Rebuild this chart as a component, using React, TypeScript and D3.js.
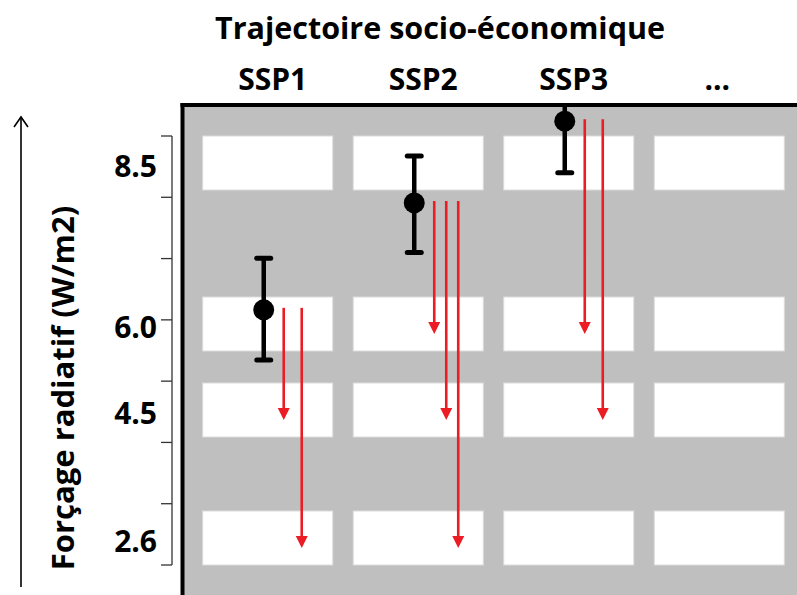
import * as d3 from 'd3';

// socio-economic pathways (columns) and radiative forcing levels (rows)
const scenarios = ['SSP1', 'SSP2', 'SSP3', '...'];
const forcingLevels = [8.5, 6.0, 4.5, 2.6];
const levelLabels = ['8.5', '6.0', '4.5', '2.6'];

// baseline forcing per SSP with its uncertainty range
const baselineSsp = ['SSP1', 'SSP2', 'SSP3'];
const baselineForcing = [6.22, 7.88, 9.15];
const baselineLow = [5.37, 7.11, 8.35];
const baselineHigh = [7.02, 8.61, 9.95];

// mitigation targets reached from each baseline (red arrows)
const mitigationTargets = [
  [4.5, 2.6],
  [6.0, 4.5, 2.6],
  [6.0, 4.5],
];

const W = 797;
const H = 595;
const frameLeft = 182.5;
const frameTop = 105;
const font = '"Open Sans", sans-serif';
const red = '#ec1c24';

export default function App() {
  const x = d3
    .scaleBand<string>()
    .domain(scenarios)
    .range([202.7, 784.3])
    .paddingInner(0.136)
    .paddingOuter(0);

  // schematic axis: rows are spaced by forcing, piecewise
  const y = d3
    .scaleLinear()
    .domain([2.6, 4.5, 6.0, 8.5])
    .range([538, 410, 324, 163]);

  const boxH = 54;
  const colMid = (s: string) => (x(s) ?? 0) + x.bandwidth() / 2;

  // bracket with evenly spaced ticks spanning the rows
  const brTop = y(8.5) - boxH / 2;
  const brBot = y(2.6) + boxH / 2;
  const brTicks = d3.range(8).map((i) => brTop + (i * (brBot - brTop)) / 7);

  return (
    <svg
      width={W}
      height={H}
      style={{ position: 'absolute', left: 0, top: 0, background: '#fff' }}
    >
      <defs>
        <clipPath id="plot">
          <rect x={frameLeft} y={frameTop} width={W - frameLeft} height={H - frameTop} />
        </clipPath>
      </defs>

      {/* title */}
      <text x={440} y={39} textAnchor="middle" fontFamily={font} fontWeight="bold" fontSize={30.5}>
        Trajectoire socio-économique
      </text>

      {scenarios.map((s, i) => (
        <text
          key={s}
          x={colMid(s) + (i < 3 ? 5 : -2)}
          y={90}
          textAnchor="middle"
          fontFamily={font}
          fontWeight="bold"
          fontSize={30}
        >
          {s}
        </text>
      ))}

      {/* plot background */}
      <rect x={frameLeft} y={frameTop} width={W - frameLeft} height={H - frameTop} fill="#bfbfbf" />

      {forcingLevels.map((lv) =>
        scenarios.map((s) => (
          <rect
            key={lv + s}
            x={x(s)}
            y={y(lv) - boxH / 2}
            width={x.bandwidth()}
            height={boxH}
            fill="#fff"
            stroke="#dcdcdc"
            strokeWidth={1}
          />
        )),
      )}

      <g clipPath="url(#plot)">
        {/* red arrows */}
        {baselineSsp.map((s, i) => {
          const n = mitigationTargets[i].length;
          const gap = n === 3 ? 12 : 18;
          return mitigationTargets[i].map((t, j) => {
            const ax = colMid(s) + 16 + j * gap;
            const y0 = y(baselineForcing[i]) - 2;
            const tip = y(t) + 10;
            return (
              <g key={s + t}>
                <line x1={ax} x2={ax} y1={y0} y2={tip - 10} stroke={red} strokeWidth={2.6} />
                <path d={`M${ax - 6},${tip - 12}L${ax + 6},${tip - 12}L${ax},${tip}Z`} fill={red} />
              </g>
            );
          });
        })}

        {/* baseline with range */}
        {baselineSsp.map((s, i) => {
          const cx = colMid(s) - 4;
          return (
            <g key={s}>
              <line
                x1={cx}
                x2={cx}
                y1={y(baselineHigh[i])}
                y2={y(baselineLow[i])}
                stroke="#000"
                strokeWidth={4.5}
              />
              {[baselineHigh[i], baselineLow[i]].map((v, k) => (
                <line
                  key={k}
                  x1={cx - 7}
                  x2={cx + 7}
                  y1={y(v)}
                  y2={y(v)}
                  stroke="#000"
                  strokeWidth={5}
                  strokeLinecap="round"
                />
              ))}
              <circle cx={cx} cy={y(baselineForcing[i])} r={10.5} fill="#000" />
            </g>
          );
        })}
      </g>

      {/* frame */}
      <line x1={frameLeft} x2={frameLeft} y1={frameTop - 2} y2={H} stroke="#000" strokeWidth={4} />
      <line x1={frameLeft - 2} x2={W} y1={frameTop} y2={frameTop} stroke="#000" strokeWidth={4} />

      {/* y axis bracket */}
      <line x1={172} x2={172} y1={brTop} y2={brBot} stroke="#333" strokeWidth={1.3} />
      {brTicks.map((ty, i) => (
        <line key={i} x1={161} x2={172} y1={ty} y2={ty} stroke="#333" strokeWidth={1.3} />
      ))}

      {forcingLevels.map((lv, i) => (
        <text
          key={lv}
          x={157}
          y={y(lv) + 13.5}
          textAnchor="end"
          fontFamily={font}
          fontWeight="bold"
          fontSize={30}
        >
          {levelLabels[i]}
        </text>
      ))}

      {/* axis title with upward arrow */}
      <text
        transform="translate(74,388) rotate(-90)"
        textAnchor="middle"
        fontFamily={font}
        fontWeight="bold"
        fontSize={31}
      >
        Forçage radiatif (W/m2)
      </text>
      <line x1={21} x2={21} y1={117} y2={587} stroke="#000" strokeWidth={1.6} />
      <path d="M14,127L21,117L28,127" fill="none" stroke="#000" strokeWidth={1.6} />
    </svg>
  );
}
